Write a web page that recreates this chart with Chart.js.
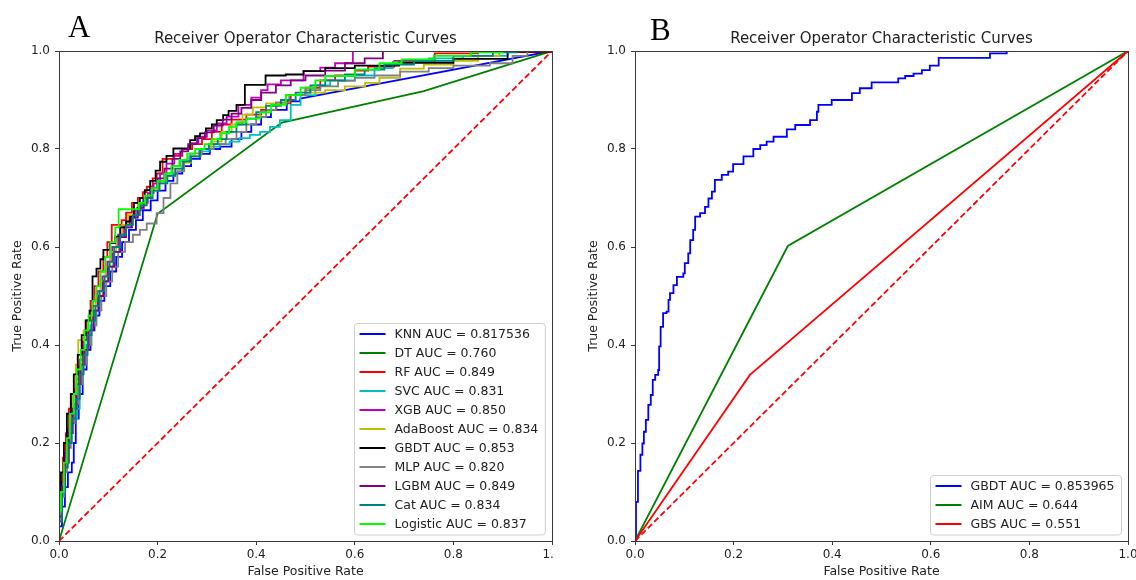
<!DOCTYPE html>
<html><head><meta charset="utf-8">
<script src="https://cdn.jsdelivr.net/npm/chart.js@4.4.1/dist/chart.umd.min.js"></script>
<style>
html,body{margin:0;padding:0;background:#fff;width:1136px;height:580px;overflow:hidden;position:relative}
.wrap{position:absolute;top:0;height:580px;overflow:hidden}
#wa{left:0;width:554px}
#wb{left:576px;width:560px}
canvas{display:block}
.pl{position:absolute;font-family:'Liberation Serif','Times New Roman',serif;font-size:31px;line-height:31px;color:#000}
</style></head><body>
<div class="wrap" id="wa"><canvas id="ca" width="568" height="580"></canvas></div>
<div class="wrap" id="wb"><canvas id="cb" width="568" height="580"></canvas></div>
<div class="pl" style="left:68px;top:11px">A</div>
<div class="pl" style="left:650px;top:14px">B</div>
<script>
// ---------- DATA (fpr, tpr) ----------
const tickValues = [0, 0.2, 0.4, 0.6, 0.8, 1.0];
const chanceLine = [[0, 0], [1, 1]];

// Panel A
const knnROC = [[0,0],[0,0.03],[0.006,0.07],[0.012,0.11],[0.018,0.14],[0.026,0.16],[0.03,0.2],[0.034,0.25],[0.04,0.3],[0.048,0.35],[0.056,0.39],[0.064,0.43],[0.072,0.46],[0.082,0.49],[0.092,0.52],[0.104,0.55],[0.116,0.58],[0.128,0.61],[0.142,0.635],[0.156,0.655],[0.17,0.675],[0.186,0.695],[0.2,0.715],[0.216,0.735],[0.232,0.75],[0.25,0.765],[0.268,0.78],[0.286,0.79],[0.306,0.8],[0.327,0.805],[0.35,0.82],[0.37,0.835],[0.39,0.85],[0.41,0.865],[0.43,0.88],[0.462,0.897],[0.489,0.903]];
const knnTail = [[0.489,0.903],[1,1]];
const dtROC = [[0,0],[0.2,0.668],[0.452,0.854],[0.74,0.918],[1,1]];
const rfROC = [[0,0],[0,0.06],[0.004,0.12],[0.008,0.17],[0.014,0.22],[0.02,0.27],[0.024,0.3],[0.032,0.31],[0.04,0.36],[0.048,0.41],[0.056,0.45],[0.064,0.49],[0.072,0.52],[0.08,0.55],[0.09,0.58],[0.098,0.61],[0.107,0.645],[0.127,0.655],[0.136,0.67],[0.148,0.69],[0.16,0.7],[0.17,0.712],[0.178,0.723],[0.19,0.74],[0.198,0.75],[0.21,0.78],[0.232,0.786],[0.25,0.8],[0.27,0.81],[0.29,0.82],[0.31,0.835],[0.33,0.85],[0.35,0.86],[0.38,0.87],[0.41,0.88],[0.441,0.893],[0.47,0.91],[0.5,0.925],[0.53,0.94],[0.56,0.95],[0.6,0.96],[0.627,0.968],[0.68,0.98],[0.762,0.995],[0.85,0.998],[1,1]];
const svcROC = [[0,0],[0,0.05],[0.004,0.1],[0.01,0.16],[0.016,0.2],[0.022,0.25],[0.037,0.27],[0.042,0.32],[0.048,0.36],[0.056,0.4],[0.064,0.44],[0.072,0.47],[0.08,0.5],[0.09,0.53],[0.1,0.56],[0.11,0.59],[0.122,0.62],[0.134,0.64],[0.146,0.66],[0.158,0.68],[0.17,0.7],[0.184,0.72],[0.198,0.735],[0.214,0.75],[0.23,0.765],[0.246,0.775],[0.264,0.785],[0.284,0.795],[0.304,0.805],[0.326,0.81],[0.346,0.815],[0.366,0.822],[0.387,0.829],[0.408,0.835],[0.428,0.845],[0.448,0.859],[0.47,0.89],[0.49,0.91],[0.52,0.93],[0.55,0.94],[0.6,0.95],[0.64,0.965],[0.677,0.978],[0.75,0.985],[0.82,0.99],[0.91,1],[1,1]];
const xgbROC = [[0,0],[0,0.07],[0.006,0.12],[0.012,0.18],[0.018,0.23],[0.026,0.28],[0.034,0.33],[0.042,0.37],[0.05,0.41],[0.059,0.451],[0.068,0.48],[0.078,0.51],[0.088,0.54],[0.098,0.57],[0.108,0.6],[0.12,0.625],[0.132,0.645],[0.143,0.66],[0.154,0.675],[0.166,0.69],[0.18,0.71],[0.192,0.73],[0.205,0.75],[0.218,0.77],[0.234,0.79],[0.25,0.8],[0.266,0.812],[0.283,0.825],[0.3,0.838],[0.32,0.852],[0.34,0.866],[0.364,0.89],[0.39,0.905],[0.41,0.92],[0.423,0.932],[0.45,0.94],[0.496,0.959],[0.53,0.966],[0.56,0.975],[0.596,1],[1,1]];
const adaROC = [[0,0],[0,0.05],[0.004,0.1],[0.01,0.15],[0.016,0.2],[0.022,0.25],[0.028,0.3],[0.034,0.36],[0.039,0.41],[0.05,0.43],[0.058,0.45],[0.066,0.47],[0.074,0.5],[0.084,0.53],[0.094,0.56],[0.104,0.59],[0.116,0.62],[0.128,0.645],[0.14,0.665],[0.16,0.686],[0.174,0.7],[0.188,0.715],[0.202,0.73],[0.218,0.745],[0.234,0.76],[0.25,0.772],[0.268,0.785],[0.288,0.8],[0.308,0.815],[0.33,0.835],[0.35,0.85],[0.372,0.87],[0.393,0.885],[0.42,0.893],[0.46,0.91],[0.5,0.915],[0.54,0.92],[0.58,0.928],[0.621,0.935],[0.65,0.945],[0.692,0.964],[0.74,0.972],[0.8,0.98],[0.85,0.99],[0.893,1],[1,1]];
const gbdtROC = [[0,0],[0,0.09],[0.004,0.14],[0.01,0.2],[0.016,0.26],[0.024,0.3],[0.03,0.34],[0.038,0.38],[0.046,0.42],[0.054,0.45],[0.062,0.47],[0.068,0.54],[0.076,0.556],[0.084,0.575],[0.09,0.594],[0.103,0.608],[0.114,0.621],[0.124,0.64],[0.136,0.652],[0.144,0.662],[0.152,0.69],[0.164,0.7],[0.174,0.716],[0.185,0.735],[0.196,0.756],[0.205,0.774],[0.218,0.786],[0.232,0.801],[0.266,0.818],[0.276,0.826],[0.286,0.832],[0.298,0.842],[0.31,0.85],[0.32,0.859],[0.333,0.869],[0.344,0.878],[0.36,0.89],[0.377,0.931],[0.419,0.95],[0.46,0.952],[0.496,0.959],[0.54,0.965],[0.6,0.97],[0.69,0.976],[0.8,0.984],[0.91,0.999],[1,1]];
const mlpROC = [[0,0],[0,0.04],[0.004,0.09],[0.01,0.14],[0.016,0.19],[0.024,0.24],[0.032,0.28],[0.04,0.32],[0.048,0.36],[0.056,0.4],[0.066,0.44],[0.076,0.47],[0.086,0.5],[0.096,0.53],[0.108,0.56],[0.12,0.59],[0.134,0.61],[0.15,0.625],[0.164,0.635],[0.178,0.648],[0.198,0.669],[0.212,0.7],[0.226,0.73],[0.24,0.755],[0.254,0.775],[0.266,0.791],[0.29,0.8],[0.314,0.81],[0.338,0.82],[0.36,0.835],[0.38,0.85],[0.4,0.865],[0.42,0.88],[0.44,0.895],[0.467,0.91],[0.5,0.92],[0.53,0.928],[0.566,0.939],[0.6,0.945],[0.64,0.95],[0.692,0.958],[0.75,0.965],[0.8,0.97],[0.874,0.975],[0.92,0.99],[0.95,1],[1,1]];
const lgbmROC = [[0,0],[0,0.05],[0.006,0.11],[0.012,0.16],[0.02,0.22],[0.028,0.27],[0.036,0.32],[0.044,0.36],[0.052,0.39],[0.06,0.43],[0.07,0.47],[0.08,0.5],[0.09,0.53],[0.1,0.56],[0.112,0.59],[0.124,0.62],[0.136,0.64],[0.148,0.66],[0.16,0.68],[0.172,0.7],[0.186,0.72],[0.2,0.74],[0.214,0.76],[0.23,0.78],[0.246,0.795],[0.262,0.81],[0.28,0.822],[0.296,0.834],[0.314,0.848],[0.332,0.86],[0.35,0.872],[0.37,0.884],[0.39,0.9],[0.41,0.915],[0.44,0.93],[0.47,0.94],[0.5,0.95],[0.54,0.96],[0.58,0.975],[0.62,0.985],[0.657,1],[1,1]];
const catROC = [[0,0],[0,0.04],[0.006,0.1],[0.012,0.15],[0.018,0.2],[0.026,0.25],[0.034,0.29],[0.042,0.34],[0.05,0.38],[0.058,0.42],[0.066,0.45],[0.074,0.48],[0.082,0.51],[0.092,0.54],[0.102,0.57],[0.112,0.6],[0.124,0.625],[0.136,0.645],[0.15,0.665],[0.164,0.685],[0.178,0.7],[0.19,0.715],[0.204,0.73],[0.22,0.745],[0.236,0.76],[0.252,0.775],[0.268,0.785],[0.286,0.8],[0.304,0.81],[0.322,0.82],[0.34,0.835],[0.36,0.85],[0.38,0.862],[0.4,0.875],[0.42,0.888],[0.45,0.9],[0.48,0.915],[0.51,0.93],[0.54,0.94],[0.58,0.952],[0.62,0.962],[0.66,0.972],[0.72,0.98],[0.8,0.99],[0.88,0.997],[0.93,1],[1,1]];
const logisticROC = [[0,0],[0,0.06],[0.004,0.1],[0.01,0.16],[0.016,0.21],[0.022,0.26],[0.03,0.3],[0.036,0.35],[0.044,0.39],[0.052,0.43],[0.06,0.46],[0.068,0.49],[0.076,0.52],[0.084,0.55],[0.094,0.58],[0.104,0.61],[0.114,0.64],[0.121,0.677],[0.162,0.69],[0.174,0.705],[0.188,0.72],[0.2,0.735],[0.214,0.75],[0.228,0.765],[0.244,0.778],[0.26,0.79],[0.276,0.8],[0.295,0.81],[0.31,0.82],[0.327,0.832],[0.345,0.845],[0.36,0.855],[0.38,0.862],[0.408,0.875],[0.43,0.89],[0.46,0.91],[0.49,0.925],[0.52,0.94],[0.54,0.949],[0.6,0.962],[0.65,0.975],[0.695,0.983],[0.76,0.99],[0.835,0.997],[0.9,1],[1,1]];

const modelsA = ['KNN','DT','RF','SVC','XGB','AdaBoost','GBDT','MLP','LGBM','Cat','Logistic'];
const aucA = ['0.817536','0.760','0.849','0.831','0.850','0.834','0.853','0.820','0.849','0.834','0.837'];
const rocA = [knnROC, dtROC, rfROC, svcROC, xgbROC, adaROC, gbdtROC, mlpROC, lgbmROC, catROC, logisticROC];
const steppedA = [true,false,true,true,true,true,true,true,true,true,true];

// Panel B
const gbdtB = [[0,0],[0.002,0.053],[0.002,0.08],[0.006,0.143],[0.011,0.176],[0.015,0.199],[0.018,0.223],[0.022,0.247],[0.027,0.278],[0.032,0.298],[0.036,0.329],[0.041,0.339],[0.047,0.349],[0.049,0.397],[0.052,0.437],[0.057,0.465],[0.064,0.468],[0.068,0.492],[0.071,0.506],[0.078,0.522],[0.085,0.539],[0.098,0.546],[0.101,0.567],[0.108,0.587],[0.112,0.614],[0.118,0.635],[0.122,0.662],[0.132,0.669],[0.142,0.682],[0.149,0.699],[0.156,0.713],[0.162,0.737],[0.176,0.747],[0.189,0.754],[0.199,0.769],[0.22,0.785],[0.24,0.8],[0.254,0.808],[0.267,0.815],[0.281,0.825],[0.308,0.84],[0.325,0.849],[0.355,0.859],[0.369,0.876],[0.372,0.89],[0.399,0.9],[0.44,0.914],[0.456,0.924],[0.48,0.936],[0.534,0.944],[0.548,0.949],[0.565,0.954],[0.582,0.961],[0.598,0.97],[0.616,0.986],[0.72,0.995],[0.754,1.0]];
const aimB = [[0,0],[0.31,0.602],[1,1]];
const gbsB = [[0,0],[0.233,0.339],[1,1]];
const modelsB = ['GBDT','AIM','GBS'];
const aucB = ['0.853965','0.644','0.551'];
const rocB = [gbdtB, aimB, gbsB];
const steppedB = [true,false,false];

// ---------- STYLE ----------
const FONT = "'DejaVu Sans', sans-serif";
const TXT = '#222222';
const AX = '#3a3a3a';
const LW = 1.8;
const colorsA = ['#0000ff','#008000','#ff0000','#00bfbf','#bf00bf','#bfbf00','#000000','#808080','#800080','#008080','#00ff00'];
const colorsB = ['#0000ff','#008000','#ff0000'];
const pts = a => a.map(p => ({x: p[0], y: p[1]}));

function buildDatasets(models, aucs, rocs, colors, stepped){
  const ds = [];
  models.forEach((m, i) => {
    ds.push({label: m + ' AUC = ' + aucs[i], data: pts(rocs[i]), borderColor: colors[i], borderWidth: LW,
      stepped: stepped[i] ? 'before' : false, inLegend: true, order: 30 - i, pointRadius: 0, fill: false});
  });
  return ds;
}
const dsA = buildDatasets(modelsA, aucA, rocA, colorsA, steppedA);
dsA.push({label: 'KNN tail', data: pts(knnTail), borderColor: colorsA[0], borderWidth: LW, inLegend: false, order: 30, pointRadius: 0});
dsA.push({label: 'chance', data: pts(chanceLine), borderColor: '#ff0000', borderWidth: LW, borderDash: [6, 3], inLegend: false, order: 0, pointRadius: 0});
const dsB = buildDatasets(modelsB, aucB, rocB, colorsB, steppedB);
dsB.push({label: 'chance', data: pts(chanceLine), borderColor: '#ff0000', borderWidth: LW, borderDash: [6, 3], inLegend: false, order: 0, pointRadius: 0});

const decorPlugin = {
  id: 'decor',
  afterDraw(chart){
    const ctx = chart.ctx, ca = chart.chartArea;
    ctx.save();
    // frame
    ctx.strokeStyle = AX; ctx.lineWidth = 1; ctx.setLineDash([]);
    ctx.strokeRect(Math.round(ca.left) + 0.5, Math.round(ca.top) + 0.5, Math.round(ca.right - ca.left), Math.round(ca.bottom - ca.top));
    // title
    ctx.fillStyle = TXT; ctx.font = '15px ' + FONT; ctx.textAlign = 'center'; ctx.textBaseline = 'alphabetic';
    ctx.fillText('Receiver Operator Characteristic Curves', (ca.left + ca.right) / 2, 43);
    // legend
    const items = chart.data.datasets.filter(d => d.inLegend);
    ctx.font = '12.5px ' + FONT;
    let tw = 0; items.forEach(d => { tw = Math.max(tw, ctx.measureText(d.label).width); });
    const w = 40 + tw + 7, h = 21.5 + (items.length - 1) * 19;
    const x0 = Math.round(ca.right - 7 - w) + 0.5, y0 = Math.round(ca.bottom - 7 - h) + 0.5;
    const r = 3;
    ctx.beginPath();
    ctx.moveTo(x0 + r, y0); ctx.lineTo(x0 + w - r, y0); ctx.arcTo(x0 + w, y0, x0 + w, y0 + r, r);
    ctx.lineTo(x0 + w, y0 + h - r); ctx.arcTo(x0 + w, y0 + h, x0 + w - r, y0 + h, r);
    ctx.lineTo(x0 + r, y0 + h); ctx.arcTo(x0, y0 + h, x0, y0 + h - r, r);
    ctx.lineTo(x0, y0 + r); ctx.arcTo(x0, y0, x0 + r, y0, r); ctx.closePath();
    ctx.fillStyle = 'rgba(255,255,255,0.85)'; ctx.fill();
    ctx.strokeStyle = '#cfcfcf'; ctx.lineWidth = 1; ctx.stroke();
    ctx.textAlign = 'left'; ctx.textBaseline = 'middle';
    items.forEach((d, i) => {
      const cy = y0 + 10.5 + i * 19;
      ctx.strokeStyle = d.borderColor; ctx.lineWidth = 2;
      ctx.beginPath(); ctx.moveTo(x0 + 5, cy); ctx.lineTo(x0 + 31, cy); ctx.stroke();
      ctx.fillStyle = TXT; ctx.fillText(d.label, x0 + 40, cy + 0.5);
    });
    ctx.restore();
  }
};

function makeOptions(){
  const tickFont = {family: FONT, size: 12};
  const titleFont = {family: FONT, size: 12.5};
  return {
    responsive: false, animation: false, devicePixelRatio: 1,
    layout: {padding: {top: 51, right: 16, bottom: 0, left: 0}},
    plugins: {legend: {display: false}, tooltip: {enabled: false}, title: {display: false}},
    elements: {point: {radius: 0}, line: {tension: 0}},
    scales: {
      x: {type: 'linear', min: 0, max: 1,
        afterBuildTicks: s => { s.ticks = tickValues.map(v => ({value: v})); },
        ticks: {callback: v => Number(v).toFixed(1), font: tickFont, color: TXT, padding: 3, maxRotation: 0, autoSkip: false},
        grid: {display: true, drawOnChartArea: false, drawTicks: true, tickLength: 4, tickColor: AX, tickWidth: 1},
        border: {display: false},
        title: {display: true, text: 'False Positive Rate', font: titleFont, color: TXT, padding: {top: 0, bottom: 0.5}},
        afterFit: s => { s.height = 39; }
      },
      y: {type: 'linear', min: 0, max: 1,
        afterBuildTicks: s => { s.ticks = tickValues.map(v => ({value: v})); },
        ticks: {callback: v => Number(v).toFixed(1), font: tickFont, color: TXT, padding: 5, autoSkip: false},
        grid: {display: true, drawOnChartArea: false, drawTicks: true, tickLength: 4, tickColor: AX, tickWidth: 1},
        border: {display: false},
        title: {display: true, text: 'True Positive Rate', font: titleFont, color: TXT, padding: {top: 10.5, bottom: 0}},
        afterFit: s => { s.width = 59; }
      }
    }
  };
}

new Chart(document.getElementById('ca'), {type: 'line', data: {datasets: dsA}, options: makeOptions(), plugins: [decorPlugin]});
new Chart(document.getElementById('cb'), {type: 'line', data: {datasets: dsB}, options: makeOptions(), plugins: [decorPlugin]});
</script>
</body></html>
